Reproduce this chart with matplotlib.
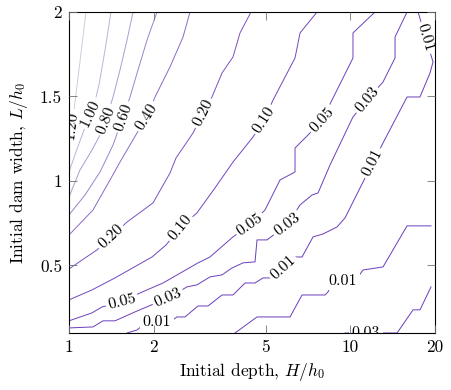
import numpy as np
import matplotlib.pyplot as plt
from matplotlib.colors import LinearSegmentedColormap, Normalize
from matplotlib.ticker import NullLocator

plt.rcParams['font.family'] = 'serif'
plt.rcParams['font.serif'] = ['cmr10']
plt.rcParams['mathtext.fontset'] = 'cm'
plt.rcParams['axes.formatter.use_mathtext'] = True

# contour lines, vertices as (H/h0, L/h0)
lev_120_H = [1.000, 1.025, 1.085, 1.149]
lev_120_L = [1.231, 1.325, 1.657, 2.000]

lev_100_H = [1.000, 1.059, 1.131, 1.207, 1.278, 1.343, 1.410]
lev_100_L = [1.053, 1.172, 1.302, 1.402, 1.568, 1.775, 2.000]

lev_080_H = [1.000, 1.094, 1.207, 1.289, 1.354, 1.434, 1.518, 1.608, 1.689]
lev_080_L = [0.905, 1.065, 1.183, 1.272, 1.361, 1.497, 1.657, 1.834, 2.000]

lev_060_H = [1.000, 1.140, 1.289, 1.434, 1.556, 1.648, 1.759, 1.894, 2.055]
lev_060_L = [0.799, 0.917, 1.053, 1.213, 1.379, 1.497, 1.657, 1.834, 2.000]

lev_040_H = [1.000, 1.217, 1.399, 1.518, 1.745, 1.894, 2.022, 2.286, 2.543, 2.692]
lev_040_L = [0.680, 0.828, 1.006, 1.112, 1.284, 1.379, 1.497, 1.675, 1.852, 2.000]

lev_020_H = [1.000, 1.140, 1.258, 1.410, 1.608, 1.989, 2.286, 2.401, 2.760, 2.995,
             3.223, 3.499, 3.828, 4.054, 4.436]
lev_020_L = [0.479, 0.544, 0.592, 0.669, 0.757, 0.870, 1.047, 1.136, 1.284, 1.402,
             1.497, 1.639, 1.734, 1.876, 2.000]

lev_010_H = [1.000, 1.207, 1.457, 1.973, 2.213, 2.480, 2.851, 3.304, 3.828, 4.509,
             4.934, 5.313, 6.360, 6.626, 7.618]
lev_010_L = [0.296, 0.355, 0.426, 0.550, 0.621, 0.722, 0.811, 0.959, 1.112, 1.260,
             1.361, 1.479, 1.728, 1.876, 2.000]

lev_005_H = [1.000, 1.207, 1.310, 1.543, 1.788, 2.159, 2.875, 3.171, 3.828, 4.400,
             4.975, 5.626, 6.360, 6.360, 7.192, 7.935, 8.610, 10.22, 10.22, 12.24]
lev_005_L = [0.172, 0.219, 0.254, 0.284, 0.337, 0.396, 0.515, 0.550, 0.669, 0.740,
             0.828, 1.006, 1.053, 1.195, 1.284, 1.361, 1.479, 1.728, 1.876, 2.000]

lev_003_H = [1.000, 1.217, 1.321, 1.457, 1.717, 2.249, 2.627, 2.851, 3.171, 3.499,
             3.797, 4.155, 4.584, 4.660, 5.057, 5.957, 6.626, 7.311, 7.679, 8.472,
             10.22, 11.47, 13.07, 14.42, 14.42, 15.91]
lev_003_L = [0.130, 0.136, 0.172, 0.172, 0.225, 0.308, 0.373, 0.385, 0.432, 0.444,
             0.485, 0.515, 0.521, 0.651, 0.651, 0.740, 0.858, 0.917, 0.929, 1.095,
             1.379, 1.479, 1.586, 1.728, 1.852, 2.000]

lev_003b_H = [9.576, 14.66, 16.71, 17.69, 19.36]
lev_003b_L = [0.100, 0.100, 0.237, 0.237, 0.373]

lev_001_H = [1.608, 1.745, 1.894, 2.286, 2.420, 2.584, 2.875, 3.120, 3.499, 3.828,
             4.224, 4.584, 4.894, 5.269, 6.360, 6.735, 7.372, 7.998, 8.970, 9.576,
             10.83, 13.07, 15.91, 17.69, 19.20, 19.68, 17.41]
lev_001_L = [0.100, 0.118, 0.166, 0.166, 0.195, 0.195, 0.260, 0.260, 0.325, 0.325,
             0.396, 0.396, 0.426, 0.426, 0.550, 0.550, 0.669, 0.686, 0.728, 0.781,
             0.959, 1.225, 1.497, 1.497, 1.639, 1.704, 2.000]

lev_001b_H = [3.892, 4.660, 6.105, 6.735, 8.131, 8.330, 8.681, 10.39, 11.10, 13.07,
              15.91, 19.36]
lev_001b_L = [0.100, 0.195, 0.195, 0.325, 0.325, 0.343, 0.408, 0.408, 0.473, 0.491,
              0.734, 0.734]

lines = [
    (1.20, lev_120_H, lev_120_L),
    (1.00, lev_100_H, lev_100_L),
    (0.80, lev_080_H, lev_080_L),
    (0.60, lev_060_H, lev_060_L),
    (0.40, lev_040_H, lev_040_L),
    (0.20, lev_020_H, lev_020_L),
    (0.10, lev_010_H, lev_010_L),
    (0.05, lev_005_H, lev_005_L),
    (0.03, lev_003_H, lev_003_L),
    (0.03, lev_003b_H, lev_003b_L),
    (0.01, lev_001_H, lev_001_L),
    (0.01, lev_001b_H, lev_001b_L),
]

# inline contour labels
label_lev = [1.20, 1.00, 0.80, 0.60, 0.40, 0.20, 0.20, 0.10, 0.10,
             0.05, 0.05, 0.05, 0.03, 0.03, 0.03, 0.03,
             0.01, 0.01, 0.01, 0.01, 0.01]
label_H = [1.018, 1.188, 1.354, 1.556, 1.894, 1.410, 2.995, 2.480, 4.934,
           1.543, 4.400, 7.935, 2.249, 5.957, 11.47, 11.37,
           2.055, 5.766, 11.95, 18.43, 9.42]
label_L = [1.330, 1.402, 1.361, 1.379, 1.379, 0.669, 1.402, 0.722, 1.361,
           0.284, 0.740, 1.361, 0.308, 0.740, 1.479, 0.098,
           0.166, 0.487, 1.107, 1.846, 0.408]

xticks = [1, 2, 5, 10, 20]
yticks = [0.5, 1, 1.5, 2]

cmap = LinearSegmentedColormap.from_list('pg', ['#6a3cbd', '#e2e2e2'])
norm = Normalize(0.01, 1.4)

fig = plt.figure(figsize=(4.52, 3.90), dpi=100)
ax = fig.add_axes([69 / 452, 57 / 390, 366 / 452, 321 / 390])
ax.set_xscale('log')
ax.set_xlim(1, 20)
ax.set_ylim(0.1, 2)

for lev, hs, ls in lines:
    ax.plot(hs, ls, color=cmap(norm(lev)), lw=0.7, zorder=2)


def label_angle(lev, h0, l0):
    p = ax.transData.transform((h0, l0))
    best = None
    for lv, hs, ls in lines:
        if lv != lev:
            continue
        pts = ax.transData.transform(np.column_stack([hs, ls]))
        for a, b in zip(pts[:-1], pts[1:]):
            d = b - a
            t = np.clip(np.dot(p - a, d) / max(np.dot(d, d), 1e-9), 0, 1)
            dist = np.hypot(*(a + t * d - p))
            if best is None or dist < best[0]:
                best = (dist, np.degrees(np.arctan2(d[1], d[0])))
    ang = best[1]
    if ang > 90:
        ang -= 180
    elif ang <= -90:
        ang += 180
    return ang


for lev, h, l in zip(label_lev, label_H, label_L):
    ax.text(h, l, f'{lev:.2f}', rotation=label_angle(lev, h, l),
            rotation_mode='anchor', ha='center', va='center', fontsize=11.5,
            clip_on=True, zorder=2.2,
            bbox=dict(boxstyle='square,pad=0.15', fc='white', ec='none'))

ax.set_xticks(xticks)
ax.set_xticklabels([str(t) for t in xticks])
ax.xaxis.set_minor_locator(NullLocator())
ax.set_yticks(yticks)
ax.set_yticklabels(['0.5', '1', '1.5', '2'])
ax.tick_params(direction='in', top=True, right=True, length=6, width=0.6,
               color='0.45', labelsize=12.5, pad=5)
ax.set_axisbelow(False)
for s in ax.spines.values():
    s.set_linewidth(0.8)

ax.set_xlabel('Initial depth, $H/h_0$', fontsize=12.5, labelpad=4)
ax.set_ylabel('Initial dam width, $L/h_0$', fontsize=12.5, labelpad=7)

plt.savefig('out.png', dpi=100)
